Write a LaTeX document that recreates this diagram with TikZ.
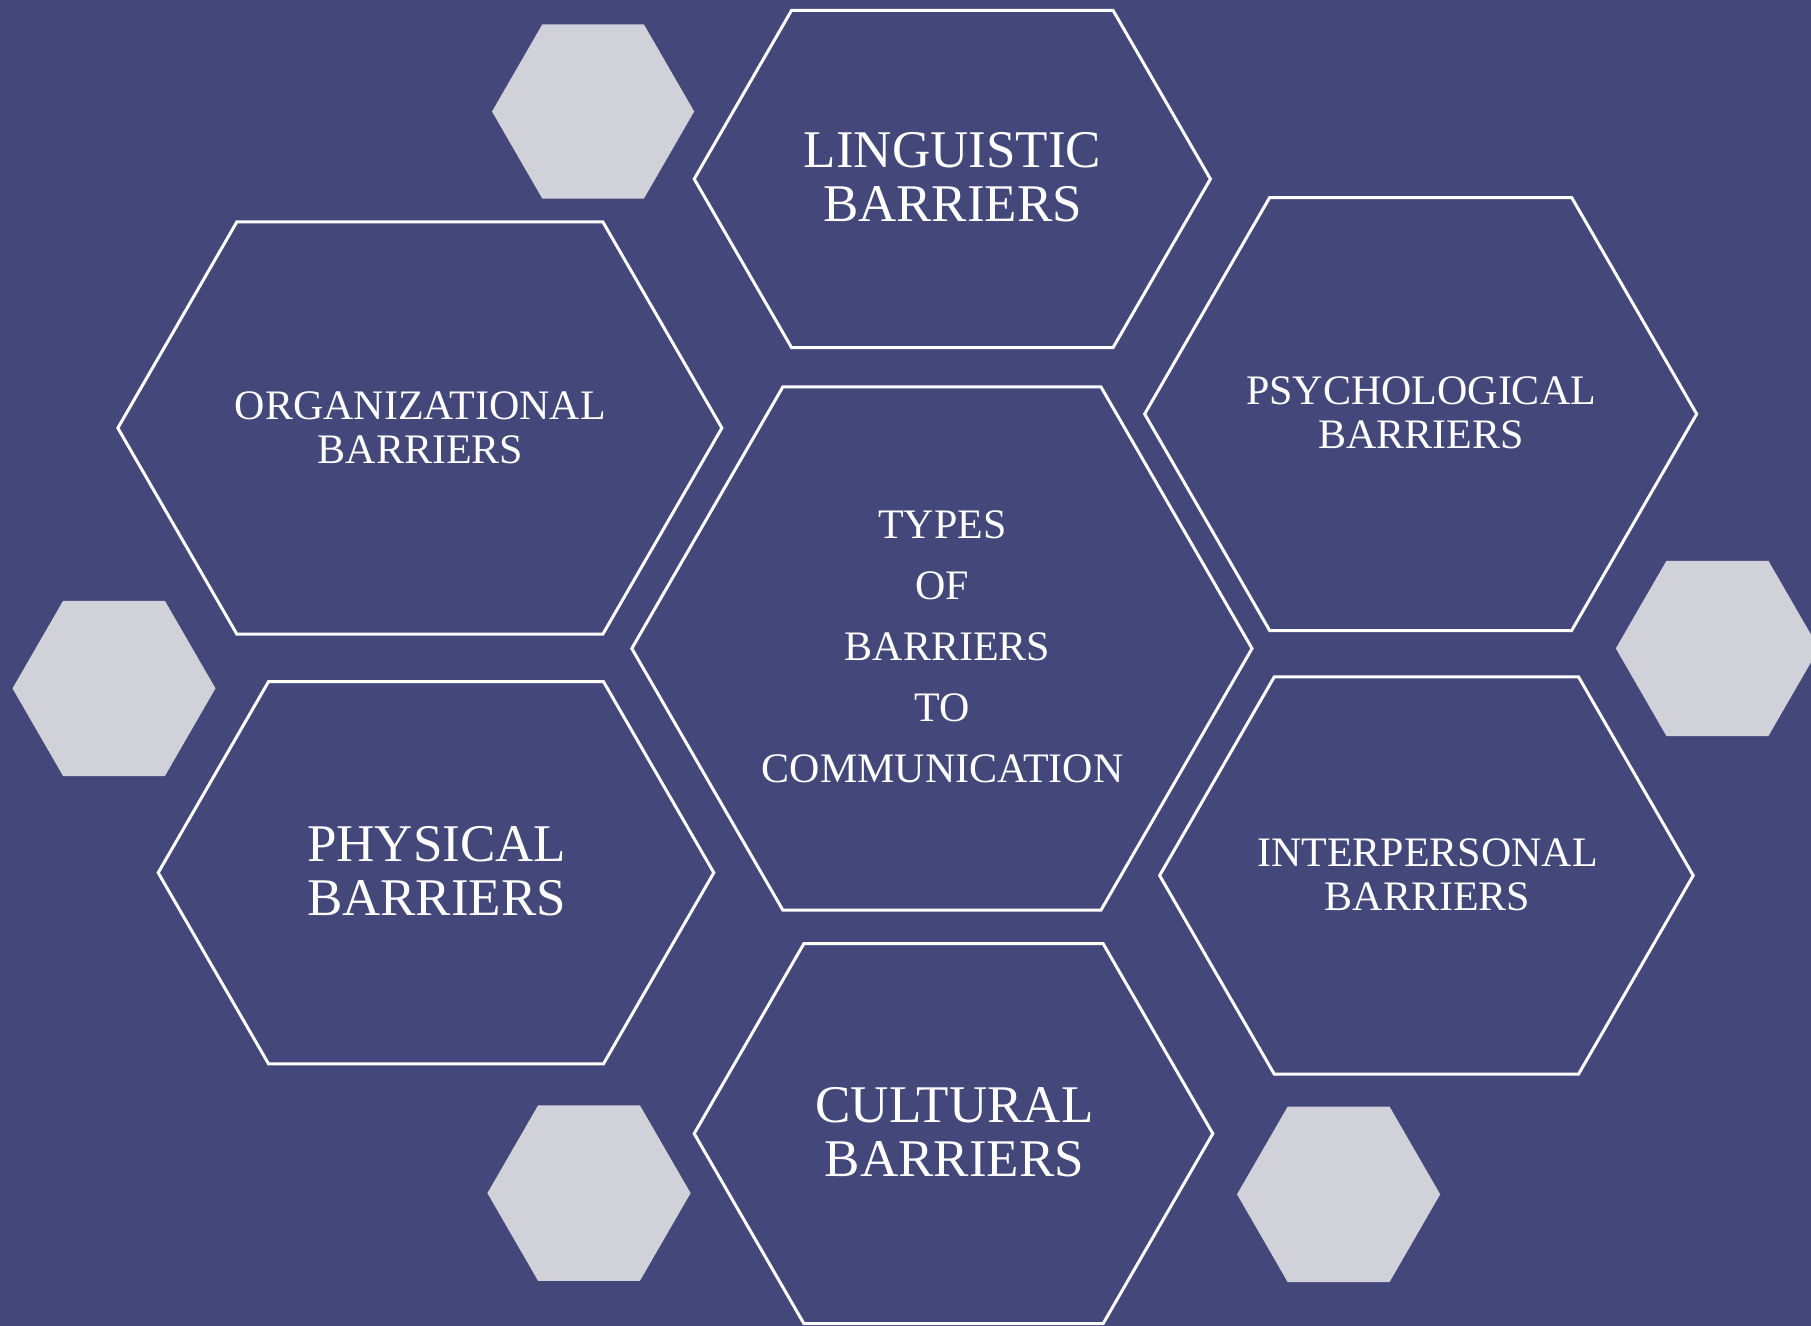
\documentclass[tikz,border=0pt]{standalone}
\usepackage{fontspec}
\setmainfont{Liberation Serif}
\definecolor{bgblue}{RGB}{67,71,122}
\definecolor{lightgrey}{RGB}{208,209,217}
\newcommand{\HexDraw}[5]{\draw[#1] ({#2-#4},{#3}) -- ({#2-#4+0.57735*#5},{#3-#5}) -- ({#2+#4-0.57735*#5},{#3-#5}) -- ({#2+#4},{#3}) -- ({#2+#4-0.57735*#5},{#3+#5}) -- ({#2-#4+0.57735*#5},{#3+#5}) -- cycle;}
\tikzset{
  outlinehex/.style={draw=white, line width=3pt, line join=miter},
  lighthex/.style={fill=lightgrey, draw=none},
  bigtxt/.style={text=white, font=\fontsize{53}{54}\selectfont, align=center, inner sep=0pt},
  smalltxt/.style={text=white, font=\fontsize{42}{44}\selectfont, align=center, inner sep=0pt},
  centertxt/.style={text=white, font=\fontsize{42}{61}\selectfont, align=center, inner sep=0pt}
}
\begin{document}
\begin{tikzpicture}[x=1pt,y=-1pt]
\useasboundingbox (0,0) rectangle (1811,1325);
\clip (0,0) rectangle (1811,1325);
\fill[bgblue] (-10,-10) rectangle (1821,1335);
% light hexagons
\HexDraw{lighthex}{593.1}{111.5}{101.1}{87.2}
\HexDraw{lighthex}{114}{688.4}{101.5}{87.6}
\HexDraw{lighthex}{1717.4}{648.4}{101.6}{87.6}
\HexDraw{lighthex}{589}{1193.1}{101.6}{87.8}
\HexDraw{lighthex}{1338.6}{1194.3}{101.6}{87.8}
% outlined hexagons
\HexDraw{outlinehex}{952.3}{179}{258.1}{168.7}
\HexDraw{outlinehex}{419.85}{428}{302}{206.2}
\HexDraw{outlinehex}{941.9}{648.5}{310.1}{261.6}
\HexDraw{outlinehex}{1420.65}{414}{276}{216.5}
\HexDraw{outlinehex}{436}{872.7}{277.8}{191.2}
\HexDraw{outlinehex}{1426.4}{875.5}{266.8}{198.7}
\HexDraw{outlinehex}{953.5}{1133.6}{259.3}{190}
% texts
\node[bigtxt] (ling) at (952.6,177.5) {LINGUISTIC\\BARRIERS};
\node[smalltxt] (org) at (420.4,427.5) {ORGANIZATIONAL\\BARRIERS};
\node[centertxt] (types) at (942.5,647) {TYPES\\OF\\\hspace*{10pt}BARRIERS\\TO\\COMMUNICATION};
\node[smalltxt] (psych) at (1421,412.5) {PSYCHOLOGICAL\\BARRIERS};
\node[bigtxt] (phys) at (436.6,871.5) {PHYSICAL\\BARRIERS};
\node[smalltxt] (inter) at (1427.6,874.5) {INTERPERSONAL\\BARRIERS};
\node[bigtxt] (cult) at (954.5,1132.5) {CULTURAL\\BARRIERS};
\end{tikzpicture}
\end{document}
